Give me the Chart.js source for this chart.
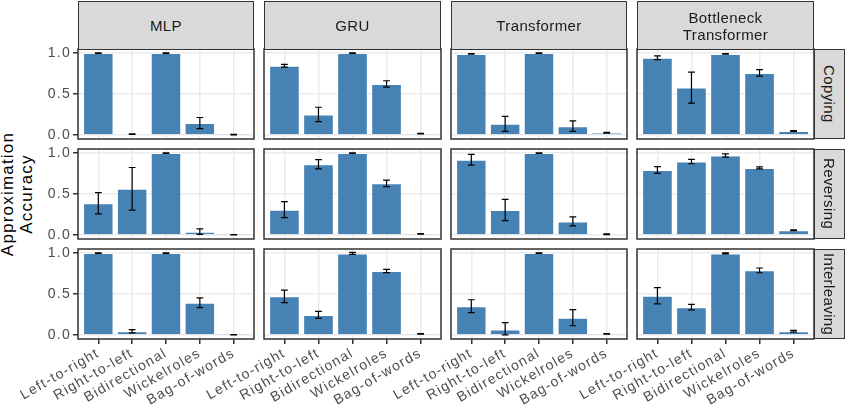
<!DOCTYPE html>
<html>
<head>
<meta charset="utf-8">
<script src="https://cdn.jsdelivr.net/npm/chart.js@4.4.0/dist/chart.umd.min.js"></script>
<style>
  body { margin: 0; background: #fff; }
  #wrap { position: relative; width: 846px; height: 410px; overflow: hidden;
          font-family: "Liberation Sans", Arial, sans-serif; }
  #wrap canvas { position: absolute; }
  .strip { position: absolute; background: #D9D9D9; border: 1.5px solid #333;
           box-sizing: border-box; color: #1A1A1A; font-size: 15px; letter-spacing: 0.4px;
           display: flex; align-items: center; justify-content: center; text-align: center;
           line-height: 17px; white-space: pre; }
  .strip.side { writing-mode: vertical-rl; }
  #ytitle { position: absolute; left: -82px; top: 174px; width: 200px; height: 40px;
            transform: rotate(-90deg); text-align: center; font-size: 17px;
            line-height: 19px; letter-spacing: 1.2px; color: #000; }
</style>
</head>
<body>
<div id="wrap">
  <div id="ytitle">Approximation<br>Accuracy</div>
</div>
<script>
// facettes : colonnes = modèles, lignes = tâches
const models = ['MLP', 'GRU', 'Transformer', 'Bottleneck\nTransformer'];
const tasks = ['Copying', 'Reversing', 'Interleaving'];
const encodings = ['Left-to-right', 'Right-to-left', 'Bidirectional', 'Wickelroles', 'Bag-of-words'];
const yTicks = [0, 0.5, 1.0];

// une ligne par modèle (MLP, GRU, Transformer, Bottleneck), une valeur par encodage
const copyingMean = [
  [1.0, 0.01, 1.0, 0.145, 0.003],
  [0.845, 0.25, 1.0, 0.623, 0.016],
  [0.99, 0.135, 1.0, 0.107, 0.025],
  [0.943, 0.578, 0.99, 0.758, 0.049]
];
const copyingErr = [
  [0.003, 0.003, 0.003, 0.068, 0.003],
  [0.016, 0.088, 0.003, 0.039, 0.004],
  [0.004, 0.092, 0.003, 0.064, 0.005],
  [0.022, 0.19, 0.004, 0.039, 0.005]
];
const reversingMean = [
  [0.387, 0.564, 1.0, 0.04, 0.002],
  [0.309, 0.864, 1.0, 0.63, 0.012],
  [0.918, 0.305, 1.0, 0.165, 0.008],
  [0.794, 0.897, 0.971, 0.819, 0.058]
];
const reversingErr = [
  [0.13, 0.26, 0.003, 0.033, 0.003],
  [0.097, 0.056, 0.003, 0.039, 0.004],
  [0.066, 0.13, 0.003, 0.055, 0.004],
  [0.041, 0.027, 0.02, 0.012, 0.005]
];
const interleavingMean = [
  [1.0, 0.045, 1.0, 0.393, 0.001],
  [0.471, 0.244, 0.996, 0.781, 0.012],
  [0.351, 0.066, 1.0, 0.211, 0.012],
  [0.479, 0.339, 0.996, 0.789, 0.045]
];
const interleavingErr = [
  [0.003, 0.02, 0.003, 0.06, 0.003],
  [0.076, 0.043, 0.012, 0.02, 0.004],
  [0.079, 0.083, 0.003, 0.099, 0.004],
  [0.099, 0.033, 0.006, 0.029, 0.01]
];

const taskMeans = [copyingMean, reversingMean, interleavingMean];
const taskErrs = [copyingErr, reversingErr, interleavingErr];

// géométrie des panneaux
const colLeft = [78, 264, 451, 637];
const colWidth = [176, 177, 176, 177];
const rowTop = [49, 149, 249];
const rowHeight = 90;
const AXW = 78;   // place pour l'axe y
const PAD = 6;
const XAXH = 71;  // place pour les étiquettes x

const wrap = document.getElementById('wrap');

// barres d'erreur + cadre du panneau
const panelPlugin = {
  id: 'panel',
  beforeDraw(chart) {
    chart.ctx.letterSpacing = '1.3px';
  },
  afterDatasetsDraw(chart, args, opts) {
    const ctx = chart.ctx;
    const xs = chart.scales.x, ys = chart.scales.y;
    const half = xs.getPixelForValue(0.1) - xs.getPixelForValue(0);
    ctx.save();
    ctx.strokeStyle = '#000';
    ctx.lineWidth = 1.2;
    opts.means.forEach(function(m, i) {
      const x = xs.getPixelForValue(i);
      const yHi = ys.getPixelForValue(m + opts.errs[i]);
      const yLo = ys.getPixelForValue(Math.max(m - opts.errs[i], 0));
      ctx.beginPath();
      ctx.moveTo(x, yHi); ctx.lineTo(x, yLo);
      ctx.moveTo(x - half, yHi); ctx.lineTo(x + half, yHi);
      ctx.moveTo(x - half, yLo); ctx.lineTo(x + half, yLo);
      ctx.stroke();
    });
    ctx.restore();
  },
  afterDraw(chart) {
    const a = chart.chartArea, ctx = chart.ctx;
    ctx.save();
    ctx.strokeStyle = '#333333';
    ctx.lineWidth = 1.5;
    ctx.strokeRect(a.left, a.top, a.right - a.left, a.bottom - a.top);
    ctx.restore();
  }
};

const tickFont = { family: '"Liberation Sans", Arial, sans-serif', size: 14 };

tasks.forEach(function(task, r) {
  models.forEach(function(model, c) {
    const means = taskMeans[r][c];
    const errs = taskErrs[r][c];
    const bottom = r === tasks.length - 1;
    const first = c === 0;

    const canvas = document.createElement('canvas');
    const w = AXW + colWidth[c] + PAD;
    const h = PAD + rowHeight + (bottom ? XAXH : PAD);
    canvas.width = w; canvas.height = h;
    canvas.style.width = w + 'px'; canvas.style.height = h + 'px';
    canvas.style.left = (colLeft[c] - AXW) + 'px';
    canvas.style.top = (rowTop[r] - PAD) + 'px';
    wrap.appendChild(canvas);

    new Chart(canvas, {
      type: 'bar',
      data: {
        datasets: [{
          data: means.map(function(v, i) { return { x: i, y: v }; }),
          backgroundColor: '#4682B4',
          borderColor: 'rgba(255,255,255,0.45)',
          borderWidth: 1,
          barPercentage: 0.9,
          categoryPercentage: 1
        }]
      },
      options: {
        responsive: false,
        animation: false,
        layout: { padding: { top: PAD, right: PAD, left: 0, bottom: 0 } },
        scales: {
          x: {
            type: 'linear',
            min: -0.6, max: 4.6,
            offset: false,
            afterBuildTicks: function(s) { s.ticks = encodings.map(function(e, i) { return { value: i }; }); },
            afterFit: function(s) { s.height = bottom ? XAXH : PAD; s.paddingLeft = 0; s.paddingRight = 0; },
            grid: { color: '#EBEBEB', lineWidth: 1.5, offset: false, drawTicks: bottom,
                    tickLength: 5, tickColor: '#333', tickWidth: 1.5 },
            border: { display: false },
            ticks: {
              display: bottom, autoSkip: false, minRotation: 30, maxRotation: 30,
              padding: 1, color: '#4D4D4D', font: tickFont,
              callback: function(v, i) { return encodings[i]; }
            }
          },
          y: {
            min: -0.05, max: 1.05,
            afterBuildTicks: function(s) { s.ticks = yTicks.map(function(v) { return { value: v }; }); },
            afterFit: function(s) { s.width = AXW; s.paddingTop = 0; s.paddingBottom = 0; },
            grid: { color: '#EBEBEB', lineWidth: 1.5, drawTicks: first,
                    tickLength: 5, tickColor: '#333', tickWidth: 1.5 },
            border: { display: false },
            ticks: {
              display: first, padding: 2, color: '#4D4D4D', font: tickFont,
              callback: function(v) { return v.toFixed(1); }
            }
          }
        },
        plugins: {
          legend: { display: false },
          tooltip: { enabled: false },
          panel: { means: means, errs: errs }
        }
      },
      plugins: [panelPlugin]
    });
  });
});

// bandeaux des facettes
models.forEach(function(model, c) {
  const d = document.createElement('div');
  d.className = 'strip';
  d.textContent = model;
  d.style.left = colLeft[c] + 'px';
  d.style.top = '1px';
  d.style.width = colWidth[c] + 'px';
  d.style.height = '49px';
  wrap.appendChild(d);
});
tasks.forEach(function(task, r) {
  const d = document.createElement('div');
  d.className = 'strip side';
  d.textContent = task;
  d.style.left = '814px';
  d.style.top = rowTop[r] + 'px';
  d.style.width = '31px';
  d.style.height = rowHeight + 'px';
  wrap.appendChild(d);
});
</script>
</body>
</html>
